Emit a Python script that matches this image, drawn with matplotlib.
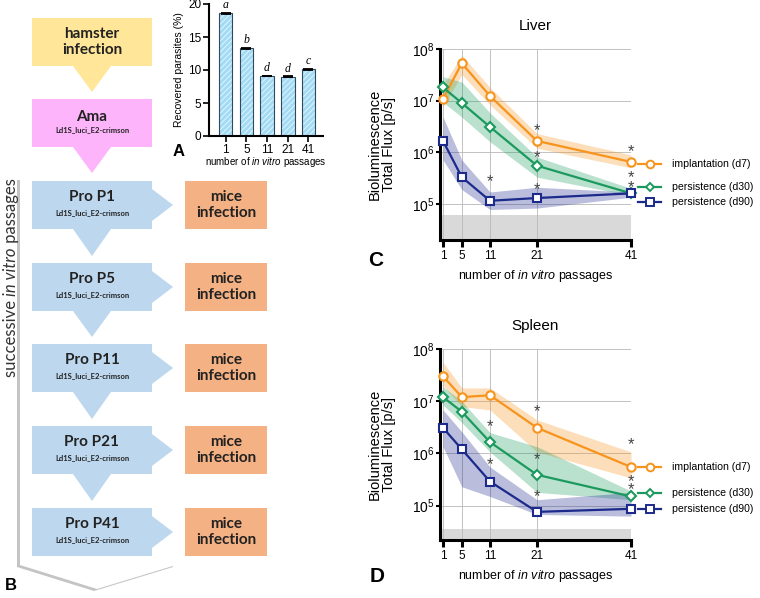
import matplotlib
matplotlib.use('Agg')
import matplotlib.pyplot as plt
from matplotlib.patches import Polygon, Rectangle
from matplotlib.transforms import blended_transform_factory

plt.rcParams['font.family'] = ['Liberation Sans', 'DejaVu Sans']
plt.rcParams['mathtext.fontset'] = 'custom'
plt.rcParams['mathtext.rm'] = 'Liberation Sans'
plt.rcParams['mathtext.it'] = 'Liberation Sans:italic'
plt.rcParams['hatch.linewidth'] = 0.7

# ---- data ----
passages = [1, 5, 11, 21, 41]
recovered = [18.6, 13.3, 9.1, 9.0, 10.1]
recovered_err = [0.08, 0.08, 0.06, 0.06, 0.08]
recovered_letters = ['a', 'b', 'd', 'd', 'c']

liver_d7 = [1.08e7, 5.3e7, 1.23e7, 1.66e6, 6.5e5]
liver_d7_lo = [7.6e6, 3.2e7, 8.3e6, 1.2e6, 5.0e5]
liver_d7_hi = [2.0e7, 7.6e7, 1.8e7, 2.3e6, 8.9e5]
liver_d30 = [1.8e7, 9.0e6, 3.1e6, 5.5e5, 1.6e5]
liver_d30_lo = [9.3e6, 4.8e6, 1.6e6, 3.3e5, 1.45e5]
liver_d30_hi = [2.9e7, 2.3e7, 5.8e6, 8.1e5, 2.0e5]
liver_d90 = [1.66e6, 3.3e5, 1.15e5, 1.3e5, 1.6e5]
liver_d90_lo = [7.1e5, 1.9e5, 7.8e4, 8.3e4, 1.35e5]
liver_d90_hi = [4.8e6, 7.1e5, 1.7e5, 2.1e5, 1.7e5]
liver_background = 6.0e4

spleen_d7 = [3.0e7, 1.2e7, 1.3e7, 3.1e6, 5.5e5]
spleen_d7_lo = [2.0e7, 7.9e6, 6.8e6, 1.07e6, 3.4e5]
spleen_d7_hi = [5.6e7, 1.8e7, 1.8e7, 4.4e6, 1.07e6]
spleen_d30 = [1.2e7, 6.3e6, 1.65e6, 3.9e5, 1.5e5]
spleen_d30_lo = [8.5e6, 3.9e6, 1.07e6, 1.8e5, 1.3e5]
spleen_d30_hi = [1.9e7, 1.0e7, 2.5e6, 1.35e6, 1.9e5]
spleen_d90 = [3.1e6, 1.2e6, 2.9e5, 7.6e4, 8.7e4]
spleen_d90_lo = [1.35e6, 2.3e5, 1.5e5, 6.8e4, 6.3e4]
spleen_d90_hi = [6.8e6, 2.6e6, 5.5e5, 1.3e5, 1.8e5]
spleen_background = 3.6e4

series_labels = ['implantation (d7)', 'persistence (d30)', 'persistence (d90)']
series_colors = ['#f7941d', '#1b9a5e', '#1c2a8c']
series_markers = ['o', 'D', 's']

fig = plt.figure(figsize=(7.6, 5.98), dpi=100)

# ---- B: flow chart, drawn in pixel coordinates ----
ax0 = fig.add_axes([0, 0, 1, 1])
ax0.set_xlim(0, 760)
ax0.set_ylim(598, 0)
ax0.axis('off')

chev = [(20, 178), (176, 178), (176, 565), (97, 589), (20, 565)]
ax0.add_patch(Polygon([(x - 3, y + 2) for x, y in chev], color='#c4c4c4', lw=0))
ax0.add_patch(Polygon(chev, color='white', lw=0))

ff = ['Lato', 'DejaVu Sans']
yellow, pink, blue, orange = '#ffe699', '#fdb4fa', '#bdd7ee', '#f4b183'

def down_arrow(ytop, ytip, color):
    ax0.add_patch(Polygon([(73, ytop), (111, ytop), (92, ytip)], color=color, lw=0))

ax0.add_patch(Rectangle((32, 18), 120, 48, color=yellow, lw=0))
ax0.text(92, 42, 'hamster\ninfection', ha='center', va='center', fontsize=11,
         fontweight='bold', family=ff, color='#222222', linespacing=1.15)
down_arrow(66, 92, yellow)
ax0.add_patch(Rectangle((32, 99), 120, 48, color=pink, lw=0))
ax0.text(92, 117, 'Ama', ha='center', va='center', fontsize=11, fontweight='bold', family=ff, color='#222222')
ax0.text(92, 130, 'Ld1S_luci_E2-crimson', ha='center', va='center', fontsize=5.5,
         fontweight='bold', family=ff, color='#222222')
down_arrow(147, 173, pink)

pro_tops = [181, 263, 344, 426, 508]
for i, (p, top) in enumerate(zip(passages, pro_tops)):
    ax0.add_patch(Rectangle((32, top), 120, 48, color=blue, lw=0))
    ax0.text(92, top + 16, f'Pro P{p}', ha='center', va='center', fontsize=11,
             fontweight='bold', family=ff, color='#222222')
    ax0.text(92, top + 32, 'Ld1S_luci_E2-crimson', ha='center', va='center', fontsize=5.5,
             fontweight='bold', family=ff, color='#222222')
    yc = top + 24
    ax0.add_patch(Polygon([(152, yc - 16), (152, yc + 16), (173, yc)], color=blue, lw=0))
    ax0.add_patch(Rectangle((185, top), 82, 48, color=orange, lw=0))
    ax0.text(226, yc, 'mice\ninfection', ha='center', va='center', fontsize=11,
             fontweight='bold', family=ff, color='#222222', linespacing=1.15)
    if i < len(pro_tops) - 1:
        down_arrow(top + 48, pro_tops[i + 1] - 7, blue)

t1 = ax0.text(11, 377, 'successive ', rotation=90, ha='center', va='bottom',
              fontsize=12, family=ff, color='#333333')
t2 = ax0.annotate('in vitro', xy=(0.5, 1), xycoords=t1, rotation=90, ha='center', va='bottom',
                  fontsize=12, family=ff, style='italic', color='#333333')
ax0.annotate(' passages', xy=(0.5, 1), xycoords=t2, rotation=90, ha='center', va='bottom',
             fontsize=12, family=ff, color='#333333')

for letter, x, y, fs in [('A', 179, 152, 12), ('B', 11, 585, 12), ('C', 376, 261, 15), ('D', 377, 576, 15)]:
    ax0.text(x, y, letter, ha='center', va='center', fontsize=fs, fontweight='bold')

# ---- A: bar chart ----
axa = fig.add_axes([209 / 760, 462 / 598, 114 / 760, 132 / 598])
idx = range(len(passages))
axa.bar(idx, recovered, width=0.65, color='#a3dbf5', edgecolor='#e2f4fd', hatch='//////', lw=0)
axa.bar(idx, recovered, width=0.65, fill=False, edgecolor='#2e4a5c', lw=0.8)
axa.errorbar(idx, recovered, yerr=recovered_err, fmt='none', ecolor='black', capsize=3.5,
             elinewidth=1, capthick=1.3)
for i, (v, lab) in enumerate(zip(recovered, recovered_letters)):
    axa.text(i, v + 1.2, lab, ha='center', va='center', fontsize=8.5, style='italic',
             family='Liberation Serif')
axa.set_xlim(-0.8, 4.7)
axa.set_ylim(0, 20)
axa.set_yticks([0, 5, 10, 15, 20])
axa.set_xticks(list(idx))
axa.set_xticklabels(passages)
axa.tick_params(labelsize=8.5, width=1.2, length=4, pad=1.5)
for s in ['top', 'right']:
    axa.spines[s].set_visible(False)
for s in ['left', 'bottom']:
    axa.spines[s].set_linewidth(1.5)
axa.set_ylabel('Recovered parasites (%)', fontsize=7.5, labelpad=3)
axa.text(0.5, -0.2, r'number of $\it{in\ vitro}$ passages', transform=axa.transAxes,
         ha='center', va='center', fontsize=7)


# ---- C / D: bioluminescence ----
def flux_panel(rect, title, bottom, background, series, stars, legend_y):
    ax = fig.add_axes(rect)
    ax.set_yscale('log')
    ax.set_xlim(0.36, 41)
    ax.set_ylim(bottom, 1e8)
    ax.axhspan(bottom, background, color='#d9d9d9', lw=0, zorder=0)
    ax.set_xticks(passages)
    ax.set_yticks([1e5, 1e6, 1e7, 1e8])
    ax.minorticks_off()
    ax.grid(True, color='#b8b8b8', lw=0.6, zorder=0.5)
    ax.set_axisbelow(True)
    for s in ['top', 'right']:
        ax.spines[s].set_visible(False)
    for s in ['left', 'bottom']:
        ax.spines[s].set_linewidth(2.2)
    ax.tick_params(axis='x', labelsize=8.5, width=2.2, length=5, pad=2)
    ax.tick_params(axis='y', labelsize=10, width=1.5, length=3, pad=1)
    trans = blended_transform_factory(ax.transAxes, ax.transAxes)
    for (vals, lo, hi), lab, col, mk, ly in zip(series, series_labels, series_colors,
                                                 series_markers, legend_y):
        ms = 6 if mk != 'D' else 5
        ax.fill_between(passages, lo, hi, color=col, alpha=0.3, lw=0, zorder=1)
        ax.plot(passages, vals, color=col, lw=1.6, marker=mk, ms=ms,
                mfc='white', mew=1.5, zorder=3, clip_on=False)
        ax.plot([1.037, 1.157], [ly, ly], color=col, lw=1.6, transform=trans, clip_on=False)
        ax.plot([1.097], [ly], color=col, marker=mk, ms=ms - 0.5, mfc='white',
                mew=1.4, transform=trans, clip_on=False)
        ax.text(1.215, ly, lab, transform=trans, ha='left', va='center', fontsize=7.6)
    for x, v, off in stars:
        ax.annotate('*', xy=(x, v), xytext=(0, off * 0.72), textcoords='offset points',
                    ha='center', va='center', fontsize=12, color='#444444')
    ax.set_ylabel('Bioluminescence\nTotal Flux [p/s]', fontsize=10.5, linespacing=1.0)
    ax.yaxis.set_label_coords(-0.23, 0.5)
    ax.text(0.5, 1.12, title, transform=ax.transAxes, ha='center', va='center', fontsize=11)
    ax.text(0.5, -0.19, r'number of $\it{in\ vitro}$ passages', transform=ax.transAxes,
            ha='center', va='center', fontsize=9)
    return ax


liver_series = [(liver_d7, liver_d7_lo, liver_d7_hi), (liver_d30, liver_d30_lo, liver_d30_hi),
                (liver_d90, liver_d90_lo, liver_d90_hi)]
liver_stars = [(11, liver_d90[2], 19), (21, liver_d7[3], 10), (21, liver_d30[3], 8),
               (21, liver_d90[3], 8), (41, liver_d7[4], 10), (41, liver_d30[4], 16),
               (41, liver_d30[4], 6)]
flux_panel([440 / 760, 358 / 598, 191 / 760, 191 / 598], 'Liver', 2.0e4, liver_background,
           liver_series, liver_stars, [0.398, 0.277, 0.199])

spleen_series = [(spleen_d7, spleen_d7_lo, spleen_d7_hi), (spleen_d30, spleen_d30_lo, spleen_d30_hi),
                 (spleen_d90, spleen_d90_lo, spleen_d90_hi)]
spleen_stars = [(11, spleen_d30[2], 15), (11, spleen_d90[2], 17), (21, spleen_d7[3], 16),
                (21, spleen_d30[3], 15), (21, spleen_d90[3], 15), (41, spleen_d7[4], 22),
                (41, spleen_d30[4], 15), (41, spleen_d30[4], 7)]
flux_panel([440 / 760, 58 / 598, 191 / 760, 191 / 598], 'Spleen', 2.2e4, spleen_background,
           spleen_series, spleen_stars, [0.382, 0.246, 0.162])

fig.savefig('out.png', dpi=100)
